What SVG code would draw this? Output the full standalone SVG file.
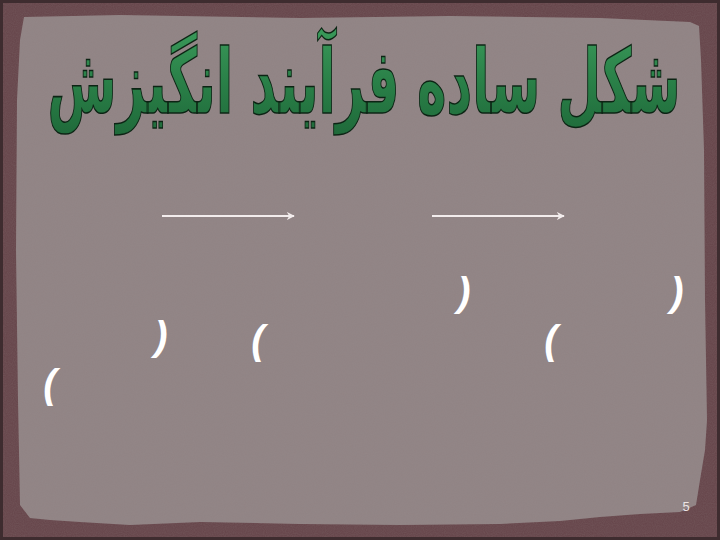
<svg xmlns="http://www.w3.org/2000/svg" width="720" height="540" viewBox="0 0 720 540">
  <defs>
    <style>
      .paren { font-family: "Liberation Sans", Arial, sans-serif; font-size: 40px; font-style: italic; font-weight: bold; fill: #ffffff; text-anchor: middle; }
      .conn { stroke: #f3eded; stroke-width: 2; fill: none; }
      .title { font-family: "DejaVu Sans", "Noto Sans", sans-serif; font-weight: bold; font-size: 90px; fill: url(#greenGrad); stroke: #0c2414; stroke-width: 1.5; text-anchor: middle; }
      .pagenum { font-family: "Liberation Sans", Arial, sans-serif; font-size: 13px; fill: #ece4e4; text-anchor: middle; }
    </style>
    <linearGradient id="greenGrad" x1="0" y1="0" x2="0" y2="1">
      <stop offset="0" stop-color="#3a9a5a"/>
      <stop offset="0.5" stop-color="#2a8048"/>
      <stop offset="1" stop-color="#1f6a3a"/>
    </linearGradient>
    <filter id="noise" x="0" y="0" width="100%" height="100%">
      <feTurbulence type="fractalNoise" baseFrequency="0.9" numOctaves="2" seed="3" result="t"/>
      <feColorMatrix in="t" type="matrix" values="0 0 0 0 0.35  0 0 0 0 0.3  0 0 0 0 0.3  0 0 0 0.18 0" result="n"/>
      <feComposite in="n" in2="SourceGraphic" operator="in"/>
    </filter>
    <marker id="arrow" viewBox="0 0 10 10" refX="9" refY="5" markerWidth="8" markerHeight="8" orient="auto" markerUnits="userSpaceOnUse">
      <path d="M0,0 L10,5 L0,10 L3,5 Z" fill="#f3eded"/>
    </marker>
  </defs>

  <g id="background">
    <rect x="0" y="0" width="720" height="540" fill="#654449"/>
    <rect x="0" y="0" width="720" height="540" fill="#654449" filter="url(#noise)"/>
    <rect x="1.5" y="1.5" width="717" height="537" fill="none" stroke="#3e2c2f" stroke-width="3"/>
    <path d="M24 17 L120 15 L300 18 L450 16 L600 18 L690 22 L699 26 L701 60 L704 150 L705 300 L707 420 L705 450 L700 480 L696 505 L680 512 L640 514 L600 517 L560 521 L500 524 L400 525 L300 524 L200 522 L130 525 L80 522 L50 520 L30 518 L20 505 L18 400 L16 250 L17 100 L20 40 Z" fill="#908384"/>
    <path d="M24 17 L120 15 L300 18 L450 16 L600 18 L690 22 L699 26 L701 60 L704 150 L705 300 L707 420 L705 450 L700 480 L696 505 L680 512 L640 514 L600 517 L560 521 L500 524 L400 525 L300 524 L200 522 L130 525 L80 522 L50 520 L30 518 L20 505 L18 400 L16 250 L17 100 L20 40 Z" fill="#908384" filter="url(#noise)"/>
  </g>

  <g id="title" transform="translate(364,113) scale(0.556,1)">
    <text class="title" x="0" y="0">شکل ساده فرآیند انگیزش</text>
  </g>

  <g id="connectors">
    <line class="conn" x1="162" y1="216" x2="294" y2="216" marker-end="url(#arrow)"/>
    <line class="conn" x1="432" y1="216" x2="564" y2="216" marker-end="url(#arrow)"/>
  </g>

  <g id="node-1"><text class="paren" x="464" y="306">)</text></g>
  <g id="node-2"><text class="paren" x="677" y="306">)</text></g>
  <g id="node-3"><text class="paren" x="161" y="350">)</text></g>
  <g id="node-4"><text class="paren" x="258" y="354">(</text></g>
  <g id="node-5"><text class="paren" x="551" y="354">(</text></g>
  <g id="node-6"><text class="paren" x="50" y="398">(</text></g>

  <g id="page-number">
    <text class="pagenum" x="686" y="511">5</text>
  </g>
</svg>
